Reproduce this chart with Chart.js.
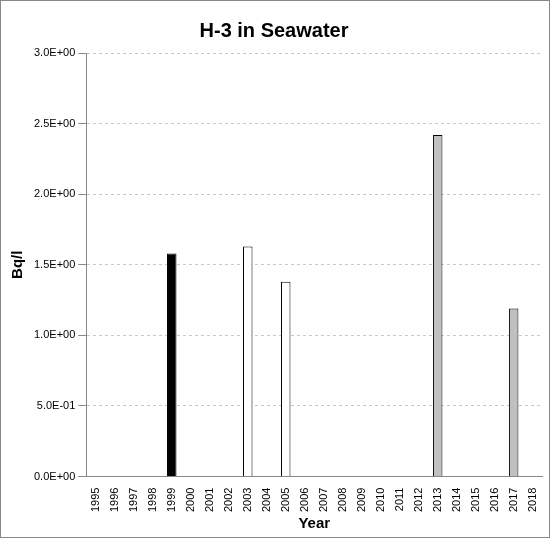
<!DOCTYPE html>
<html>
<head>
<meta charset="utf-8">
<script src="https://cdn.jsdelivr.net/npm/chart.js@4"></script>
<style>
  html, body { margin: 0; padding: 0; background: #fff; }
  #wrap { width: 548px; height: 536px; border: 1px solid #888; position: relative; }
</style>
</head>
<body>
<div id="wrap"><canvas id="chart" width="548" height="536"></canvas></div>
<script>
var years = ['1995','1996','1997','1998','1999','2000','2001','2002','2003','2004','2005','2006',
             '2007','2008','2009','2010','2011','2012','2013','2014','2015','2016','2017','2018'];
var values = [null,null,null,null,1.58,null,null,null,1.63,null,1.38,null,
              null,null,null,null,null,null,2.42,null,null,null,1.19,null];
var barColors = ['','','','','#000000','','','','#ffffff','','#ffffff','',
                 '','','','','','','#c0c0c0','','','','#c0c0c0',''];

function sci(v) {
    if (v === 0) return '0.0E+00';
    var e = Math.floor(Math.log10(Math.abs(v)) + 1e-9);
    var m = v / Math.pow(10, e);
    var s = e < 0 ? '-' : '+';
    var a = Math.abs(e);
    return m.toFixed(1) + 'E' + s + (a < 10 ? '0' + a : a);
}

var ctx = document.getElementById('chart').getContext('2d');
new Chart(ctx, {
    type: 'bar',
    data: {
        labels: years,
        datasets: [{
            data: values,
            backgroundColor: barColors,
            borderColor: '#000',
            borderWidth: 1,
            categoryPercentage: 1,
            barPercentage: 0.5
        }]
    },
    options: {
        responsive: false,
        animation: false,
        layout: { padding: { left: 4, right: 6, top: 4, bottom: 4 } },
        plugins: {
            legend: { display: false },
            tooltip: { enabled: false },
            title: {
                display: true,
                text: 'H-3 in Seawater',
                color: '#000',
                font: { family: 'Liberation Sans', size: 20, weight: 'bold' },
                padding: { top: 14, bottom: 10 }
            }
        },
        scales: {
            x: {
                grid: { display: false },
                border: { color: '#888' },
                ticks: {
                    color: '#000', autoSkip: false, maxRotation: 90, minRotation: 90,
                    font: { family: 'Liberation Sans', size: 11 }
                },
                title: {
                    display: true, text: 'Year', color: '#000',
                    font: { family: 'Liberation Sans', size: 15, weight: 'bold' }, padding: 0
                }
            },
            y: {
                min: 0, max: 3,
                ticks: {
                    stepSize: 0.5, color: '#000',
                    font: { family: 'Liberation Sans', size: 11 },
                    callback: function (v) { return sci(v); }
                },
                grid: { color: '#c8c8c8', drawTicks: true, tickColor: '#888' },
                border: { color: '#888', dash: [3, 3] },
                title: {
                    display: true, text: 'Bq/l', color: '#000',
                    font: { family: 'Liberation Sans', size: 15, weight: 'bold' }
                }
            }
        }
    }
});
</script>
</body>
</html>
